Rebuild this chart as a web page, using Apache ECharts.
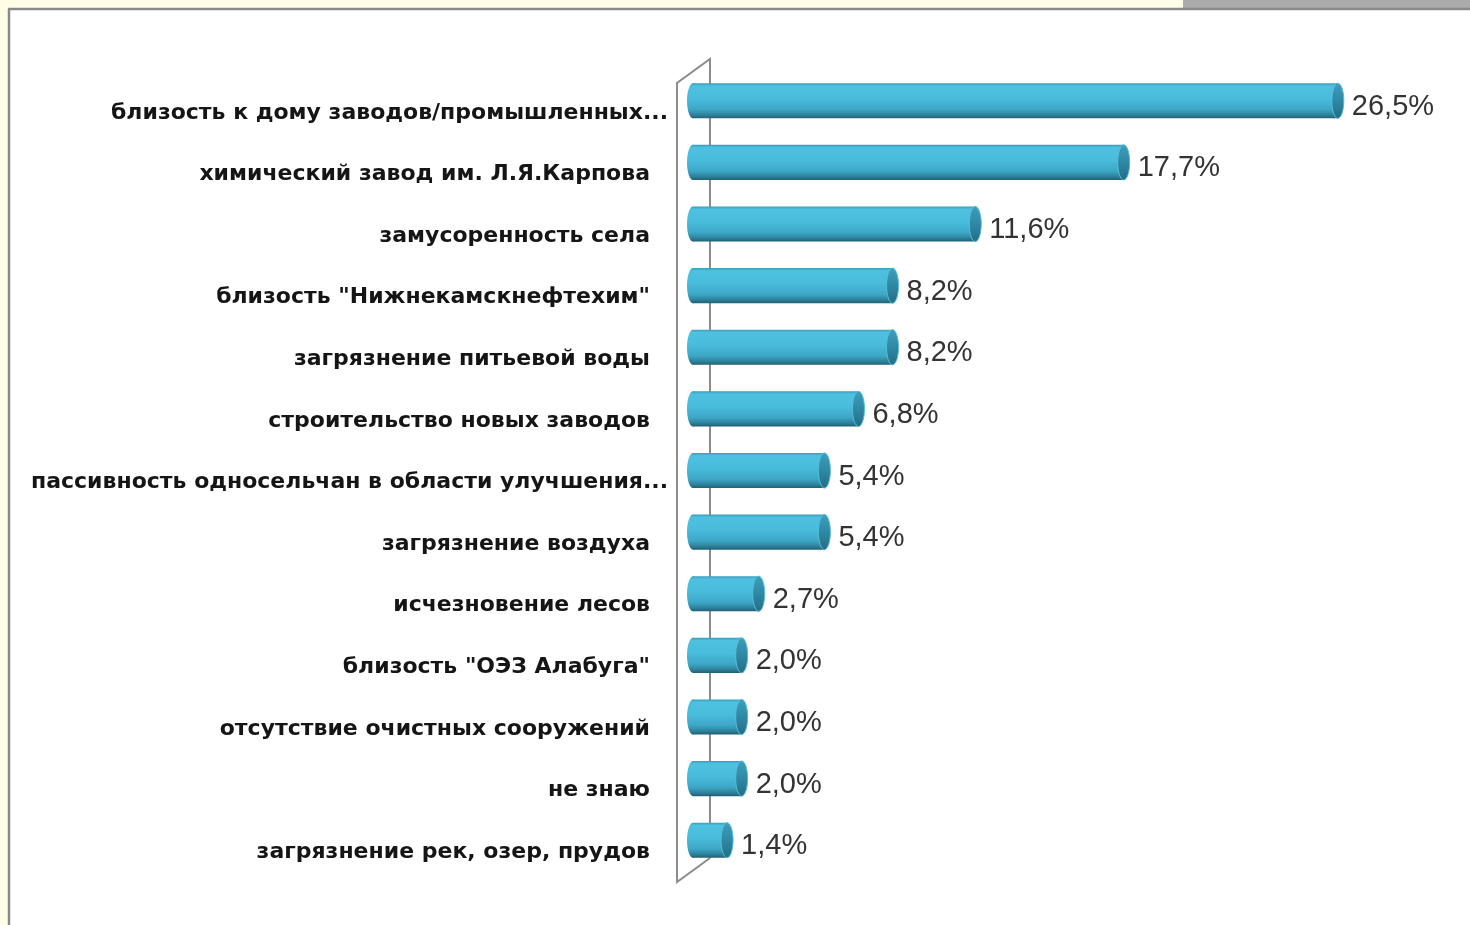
<!DOCTYPE html>
<html>
<head>
<meta charset="utf-8">
<style>
  html, body { margin: 0; padding: 0; background: #fff; }
  #chart { width: 1470px; height: 925px; }
</style>
<script src="https://cdn.jsdelivr.net/npm/echarts@6/dist/echarts.min.js"></script>
</head>
<body>
<div id="chart"></div>
<script>
var categories = [
  'близость к дому заводов/промышленных...',
  'химический завод им. Л.Я.Карпова',
  'замусоренность села',
  'близость "Нижнекамскнефтехим"',
  'загрязнение питьевой воды',
  'строительство новых заводов',
  'пассивность односельчан в области улучшения...',
  'загрязнение воздуха',
  'исчезновение лесов',
  'близость "ОЭЗ Алабуга"',
  'отсутствие очистных сооружений',
  'не знаю',
  'загрязнение рек, озер, прудов'
];
var values = [26.5, 17.7, 11.6, 8.2, 8.2, 6.8, 5.4, 5.4, 2.7, 2.0, 2.0, 2.0, 1.4];

var myChart = echarts.init(document.getElementById('chart'));

function fmt(v) {
  return v.toFixed(1).replace('.', ',') + '%';
}

// horizontal cylinder: body + rounded back end + dark cap at the front
function renderItem(params, api) {
  var v = api.value(0);
  var idx = api.value(1);
  var s = api.coord([0, idx]);
  var e = api.coord([v, idx]);
  var h = api.size([0, 1])[1] * 0.57;
  var rx = 6, ry = h / 2;
  var body = new echarts.graphic.LinearGradient(0, 0, 0, 1, [
    { offset: 0, color: '#3a9cba' },
    { offset: 0.08, color: '#4fc1e0' },
    { offset: 0.45, color: '#49bbdb' },
    { offset: 0.75, color: '#3da6c5' },
    { offset: 0.9, color: '#2d829c' },
    { offset: 1, color: '#235f73' }
  ]);
  var cap = new echarts.graphic.LinearGradient(0, 0, 0, 1, [
    { offset: 0, color: '#3e9fbd' },
    { offset: 0.5, color: '#2f88a5' },
    { offset: 1, color: '#246d85' }
  ]);
  return {
    type: 'group',
    children: [
      { type: 'ellipse', shape: { cx: s[0], cy: s[1], rx: rx, ry: ry }, style: { fill: body } },
      { type: 'rect', shape: { x: s[0], y: s[1] - ry, width: e[0] - s[0], height: h }, style: { fill: body } },
      { type: 'ellipse', shape: { cx: e[0], cy: e[1], rx: rx, ry: ry },
        style: { fill: cap, stroke: '#56bfdc', lineWidth: 1 } },
      { type: 'text', x: e[0] + rx + 8, y: e[1] + 6,
        style: { text: fmt(v), fill: '#333', font: '29px "Liberation Sans", Arial, sans-serif',
                 verticalAlign: 'middle', align: 'left' } }
    ]
  };
}

var option = {
  backgroundColor: '#ffffff',
  animation: false,
  grid: { left: 693, right: 47, top: 70, bottom: 54, containLabel: false },
  xAxis: {
    type: 'value', min: 0, max: 30,
    show: false
  },
  yAxis: {
    type: 'category',
    data: categories,
    inverse: true,
    axisLine: { show: false },
    axisTick: { show: false },
    splitLine: { show: false },
    axisLabel: {
      interval: 0,
      margin: 25,
      padding: [24, 0, 0, 0],
      verticalAlign: 'middle',
      formatter: function (v) {
        // truncated labels let their dots run past the common right edge
        return v.slice(-3) === '...' ? '{c|' + v + '}' : '{n|' + v + '}';
      },
      rich: {
        n: { color: '#151515', fontSize: 22, fontWeight: 'bold', fontFamily: 'DejaVu Sans', padding: [0, 18, 0, 0] },
        c: { color: '#151515', fontSize: 22, fontWeight: 'bold', fontFamily: 'DejaVu Sans' }
      }
    }
  },
  graphic: [
    // slide frame
    { type: 'rect', shape: { x: 0, y: 0, width: 1470, height: 8 }, style: { fill: '#fffde6' }, z: 0 },
    { type: 'rect', shape: { x: 0, y: 0, width: 8, height: 925 }, style: { fill: '#fffde6' }, z: 0 },
    { type: 'rect', shape: { x: 1183, y: 0, width: 287, height: 8 }, style: { fill: '#ababab' }, z: 0 },
    { type: 'line', shape: { x1: 8, y1: 9, x2: 1470, y2: 9 }, style: { stroke: '#8a8a8a', lineWidth: 2.5 }, z: 0 },
    { type: 'line', shape: { x1: 9, y1: 9, x2: 9, y2: 925 }, style: { stroke: '#8a8a8a', lineWidth: 2.5 }, z: 0 },
    // 3d axis wall
    { type: 'polyline', shape: { points: [[710, 858], [710, 59], [677, 83], [677, 882], [710, 858]] },
      style: { stroke: '#8c8c8c', lineWidth: 2, fill: null }, z: 0 }
  ],
  series: [{
    type: 'custom',
    renderItem: renderItem,
    encode: { x: 0, y: 1 },
    data: values.map(function (v, i) { return [v, i]; }),
    z: 3
  }]
};

myChart.setOption(option);
</script>
</body>
</html>
